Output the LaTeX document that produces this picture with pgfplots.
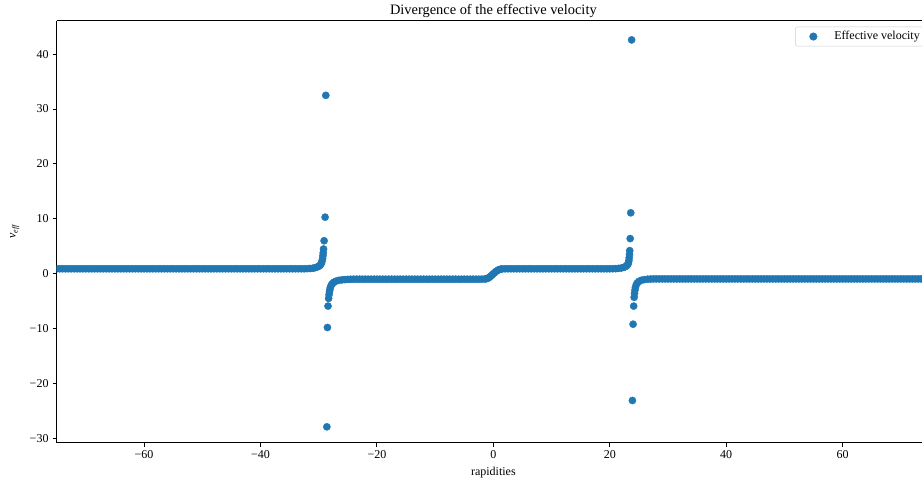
\documentclass[border=0pt]{standalone}
\usepackage{fontspec}
\setmainfont{Liberation Serif}
\usepackage{pgfplots}
\pgfplotsset{compat=1.18}
\definecolor{mplblue}{HTML}{1F77B4}
\begin{document}
\fontsize{12}{14}\selectfont
\begin{tikzpicture}
\begin{axis}[
  scale only axis, width=873pt, height=421.9pt,
  xmin=-75, xmax=75, ymin=-30.8, ymax=46.1,
  axis x line*=box, axis y line*=left,
  axis line style={black, line width=0.9pt, -},
  every outer y axis line/.append style={-},
  tick pos=left, tick align=outside,
  major tick length=4pt,
  tick style={black, line width=0.9pt},
  xtick={-60,-40,-20,0,20,40,60},
  xticklabels={−60,−40,−20,0,20,40,60},
  ytick={-30,-20,-10,0,10,20,30,40},
  yticklabels={−30,−20,−10,0,10,20,30,40},
  ticklabel style={font=\fontsize{12}{14}\selectfont},
  every axis title shift=0pt,
  title={Divergence of the effective velocity},
  title style={at={([yshift=6.5pt]axis description cs:0.5,1)}, anchor=base, yshift=0pt, font=\fontsize{14.4}{17}\selectfont},
  xlabel={rapidities},
  xlabel style={at={([yshift=-33pt]axis description cs:0.5,0)}, anchor=base, font=\fontsize{12}{14}\selectfont},
  ylabel={\itshape v\textsubscript{eff}},
  ylabel style={at={([xshift=-41pt]axis description cs:0,0.5)}, anchor=base, rotate=0, font=\fontsize{12}{14}\selectfont},
  clip marker paths=true,
  legend style={at={([xshift=-3pt,yshift=-6pt]axis description cs:1,1)}, anchor=north east,
    draw=black!20, rounded corners=2pt, fill=white, inner xsep=5pt, inner ysep=2.5pt,
    font=\fontsize{12}{14}\selectfont},
  legend cell align=left,
  legend image code/.code={\path[draw=none,fill=none] (0,0) -- (32pt,0); \fill[mplblue] (13pt,0) circle (3.8pt);},
]
\coordinate (sw) at (rel axis cs:0,0);
\coordinate (ne) at (rel axis cs:1,1);
\addplot[only marks, color=mplblue, mark=*, mark size=3.6pt, mark options={draw=mplblue, fill=mplblue, line width=0.4pt}] coordinates {
(-75,0.9) (-74.5,0.9) (-74,0.9) (-73.5,0.9) (-73,0.9) (-72.5,0.9) (-72,0.9) (-71.5,0.9) (-71,0.9) (-70.5,0.9)
(-70,0.9) (-69.5,0.9) (-69,0.9) (-68.5,0.9) (-68,0.9) (-67.5,0.9) (-67,0.9) (-66.5,0.9) (-66,0.9) (-65.5,0.9)
(-65,0.9) (-64.5,0.9) (-64,0.9) (-63.5,0.9) (-63,0.9) (-62.5,0.9) (-62,0.9) (-61.5,0.9) (-61,0.9) (-60.5,0.9)
(-60,0.9) (-59.5,0.9) (-59,0.9) (-58.5,0.9) (-58,0.9) (-57.5,0.9) (-57,0.9) (-56.5,0.9) (-56,0.9) (-55.5,0.9)
(-55,0.9) (-54.5,0.9) (-54,0.9) (-53.5,0.9) (-53,0.9) (-52.5,0.9) (-52,0.9) (-51.5,0.9) (-51,0.9) (-50.5,0.9)
(-50,0.9) (-49.5,0.9) (-49,0.9) (-48.5,0.9) (-48,0.9) (-47.5,0.9) (-47,0.9) (-46.5,0.9) (-46,0.9) (-45.5,0.9)
(-45,0.9) (-44.5,0.9) (-44,0.9) (-43.5,0.9) (-43,0.9) (-42.5,0.9) (-42,0.9) (-41.5,0.9) (-41,0.9) (-40.5,0.9)
(-40,0.9) (-39.5,0.9) (-39,0.9) (-38.5,0.9) (-38,0.9) (-37.5,0.9) (-37,0.9) (-36.5,0.9) (-36,0.9) (-35.5,0.9)
(-35,0.9) (-34.5,0.9) (-34,0.9) (-33.5,0.9) (-33,0.9) (-32.5,0.9)
(-32,0.92) (-31.5,0.95) (-31,1.0) (-30.6,1.1) (-30.3,1.2) (-30,1.35) (-29.8,1.5) (-29.65,1.7) (-29.5,2.0)
(-29.4,2.4) (-29.33,2.8) (-29.27,3.3) (-29.22,3.8) (-29.17,4.5) (-29.07,6.0) (-28.9,10.3) (-28.78,32.5)
(-28.6,-27.9) (-28.5,-9.8) (-28.4,-5.9) (-28.3,-4.5) (-28.22,-3.8) (-28.15,-3.3) (-28.08,-2.9) (-28,-2.5)
(-27.85,-2.1) (-27.65,-1.8) (-27.4,-1.55) (-27,-1.35) (-26.5,-1.2) (-26,-1.12) (-25.5,-1.07) (-25,-1.04) (-24.5,-1.02) (-24,-1.0)
(-23.5,-1.0) (-23,-1.0) (-22.5,-1.0) (-22,-1.0) (-21.5,-1.0) (-21,-1.0) (-20.5,-1.0) (-20,-1.0) (-19.5,-1.0) (-19,-1.0)
(-18.5,-1.0) (-18,-1.0) (-17.5,-1.0) (-17,-1.0) (-16.5,-1.0) (-16,-1.0) (-15.5,-1.0) (-15,-1.0) (-14.5,-1.0) (-14,-1.0)
(-13.5,-1.0) (-13,-1.0) (-12.5,-1.0) (-12,-1.0) (-11.5,-1.0) (-11,-1.0) (-10.5,-1.0) (-10,-1.0) (-9.5,-1.0) (-9,-1.0)
(-8.5,-1.0) (-8,-1.0) (-7.5,-1.0) (-7,-1.0) (-6.5,-1.0) (-6,-1.0) (-5.5,-1.0) (-5,-1.0) (-4.5,-1.0) (-4,-1.0)
(-3.5,-1.0) (-3,-1.0) (-2.5,-1.0) (-2,-0.99) (-1.5,-0.97) (-1.25,-0.92) (-1,-0.85) (-0.75,-0.7) (-0.5,-0.5) (-0.25,-0.25)
(0,0) (0.25,0.22) (0.5,0.45) (0.75,0.62) (1,0.75) (1.25,0.83) (1.5,0.87) (2,0.9)
(2.5,0.9) (3,0.9) (3.5,0.9) (4,0.9) (4.5,0.9) (5,0.9) (5.5,0.9) (6,0.9) (6.5,0.9) (7,0.9)
(7.5,0.9) (8,0.9) (8.5,0.9) (9,0.9) (9.5,0.9) (10,0.9) (10.5,0.9) (11,0.9) (11.5,0.9) (12,0.9)
(12.5,0.9) (13,0.9) (13.5,0.9) (14,0.9) (14.5,0.9) (15,0.9) (15.5,0.9) (16,0.9) (16.5,0.9) (17,0.9)
(17.5,0.9) (18,0.9) (18.5,0.9) (19,0.9) (19.5,0.9) (20,0.9) (20.5,0.91)
(21,0.92) (21.5,0.97) (22,1.05) (22.4,1.15) (22.7,1.3) (22.95,1.5) (23.1,1.7) (23.2,2.0) (23.28,2.4)
(23.33,2.9) (23.38,3.5) (23.42,4.2) (23.5,6.4) (23.6,11.1) (23.75,42.6)
(23.88,-23.1) (24,-9.2) (24.1,-5.9) (24.18,-4.3) (24.25,-3.6) (24.32,-3.0) (24.4,-2.5) (24.55,-2.0) (24.75,-1.65)
(25,-1.4) (25.4,-1.2) (25.9,-1.08) (26.5,-1.0) (27,-0.97) (27.5,-0.95)
(28,-0.95) (28.5,-0.95) (29,-0.95) (29.5,-0.95) (30,-0.95) (30.5,-0.95) (31,-0.95) (31.5,-0.95) (32,-0.95) (32.5,-0.95)
(33,-0.95) (33.5,-0.95) (34,-0.95) (34.5,-0.95) (35,-0.95) (35.5,-0.95) (36,-0.95) (36.5,-0.95) (37,-0.95) (37.5,-0.95)
(38,-0.95) (38.5,-0.95) (39,-0.95) (39.5,-0.95) (40,-0.95) (40.5,-0.95) (41,-0.95) (41.5,-0.95) (42,-0.95) (42.5,-0.95)
(43,-0.95) (43.5,-0.95) (44,-0.95) (44.5,-0.95) (45,-0.95) (45.5,-0.95) (46,-0.95) (46.5,-0.95) (47,-0.95) (47.5,-0.95)
(48,-0.95) (48.5,-0.95) (49,-0.95) (49.5,-0.95) (50,-0.95) (50.5,-0.95) (51,-0.95) (51.5,-0.95) (52,-0.95) (52.5,-0.95)
(53,-0.95) (53.5,-0.95) (54,-0.95) (54.5,-0.95) (55,-0.95) (55.5,-0.95) (56,-0.95) (56.5,-0.95) (57,-0.95) (57.5,-0.95)
(58,-0.95) (58.5,-0.95) (59,-0.95) (59.5,-0.95) (60,-0.95) (60.5,-0.95) (61,-0.95) (61.5,-0.95) (62,-0.95) (62.5,-0.95)
(63,-0.95) (63.5,-0.95) (64,-0.95) (64.5,-0.95) (65,-0.95) (65.5,-0.95) (66,-0.95) (66.5,-0.95) (67,-0.95) (67.5,-0.95)
(68,-0.95) (68.5,-0.95) (69,-0.95) (69.5,-0.95) (70,-0.95) (70.5,-0.95) (71,-0.95) (71.5,-0.95) (72,-0.95) (72.5,-0.95)
(73,-0.95) (73.5,-0.95) (74,-0.95) (74.5,-0.95) (75,-0.95)
};
\addlegendentry{Effective velocity}
\end{axis}
\pgfresetboundingbox
\useasboundingbox ([xshift=-56.7pt,yshift=-42pt]sw) rectangle ([xshift=-8pt,yshift=20.7pt]ne);
\end{tikzpicture}
\end{document}
